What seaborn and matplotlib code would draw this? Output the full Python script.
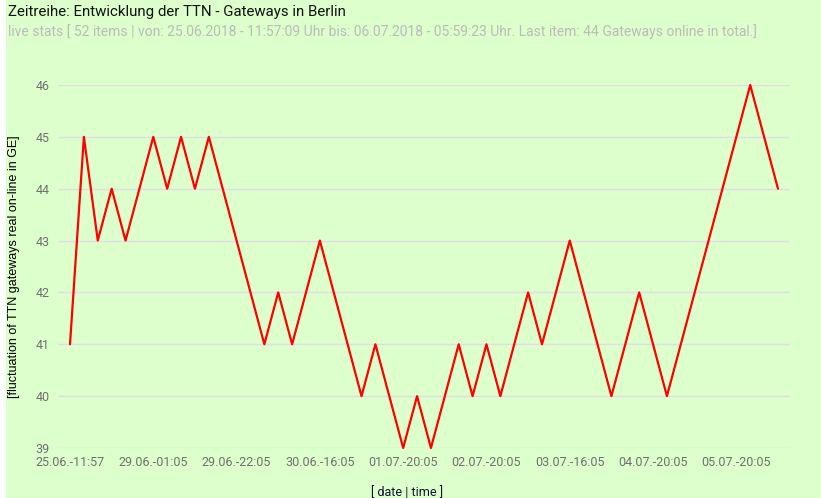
import matplotlib
matplotlib.use("Agg")
import matplotlib.pyplot as plt
import seaborn as sns
import pandas as pd
import numpy as np

gateways = [41, 45, 43, 44, 43, 44, 45, 44, 45, 44,
            45, 44, 43, 42, 41, 42, 41, 42, 43, 42,
            41, 40, 41, 40, 39, 40, 39, 40, 41, 40,
            41, 40, 41, 42, 41, 42, 43, 42, 41, 40,
            41, 42, 41, 40, 41, 42, 43, 44, 45, 46,
            45, 44]
tick_positions = [0, 6, 12, 18, 24, 30, 36, 42, 48]
tick_labels = ["25.06.-11:57", "29.06.-01:05", "29.06.-22:05", "30.06.-16:05",
               "01.07.-20:05", "02.07.-20:05", "03.07.-16:05", "04.07.-20:05",
               "05.07.-20:05"]
y_ticks = [39, 40, 41, 42, 43, 44, 45, 46]

df = pd.DataFrame({"idx": np.arange(len(gateways)), "gw": gateways})

sns.set_theme(style="white")
plt.rcParams['font.family'] = ['Roboto', 'DejaVu Sans']

bg = "#ddffcc"
fig = plt.figure(figsize=(8.21, 4.98), dpi=100, facecolor="white")
fig.patches.append(plt.Rectangle((6/821, 0), 1, 1, transform=fig.transFigure,
                                 facecolor=bg, edgecolor="none", zorder=-10))
ax = fig.add_axes([58/821, 1 - 448/498, 732/821, (448 - 85)/498])
ax.set_facecolor(bg)

sns.lineplot(data=df, x="idx", y="gw", ax=ax, color="#ff0000", linewidth=1.6,
             clip_on=False, zorder=3)

ax.set_xlim(-0.865, 51.865)
ax.set_ylim(39, 46)
ax.set_yticks(y_ticks)
ax.set_yticklabels([str(v) for v in y_ticks])
ax.set_xticks(tick_positions)
ax.set_xticklabels(tick_labels)
ax.grid(axis="y", color="#e2dbe8", linewidth=1)
ax.grid(axis="x", visible=False)
for s in ax.spines.values():
    s.set_visible(False)
ax.tick_params(axis="both", length=0, labelsize=9, labelcolor="#707070")
ax.tick_params(axis="y", pad=6)
ax.tick_params(axis="x", pad=6)

ax.set_xlabel("[ date | time ]", fontsize=9, color="#111133")
ax.xaxis.set_label_coords((407 - 58) / 732, -(486 - 448) / 363)
ax.set_ylabel("[fluctuation of TTN gateways real on-line in GE]", fontsize=9,
              color="black", family=["Liberation Sans"], labelpad=11)

fig.text(8/821, 1 - 12/498, "Zeitreihe: Entwicklung der TTN - Gateways in Berlin",
         fontsize=10.8, color="#111111", va="center", ha="left")
fig.text(8/821, 1 - 32/498,
         "live stats [ 52 items | von: 25.06.2018 - 11:57:09 Uhr bis: 06.07.2018 - 05:59:23 Uhr. Last item: 44 Gateways online in total.]",
         fontsize=10, color="#bbbbbb", va="center", ha="left")

fig.savefig("out.png", dpi=100, facecolor=fig.get_facecolor())
